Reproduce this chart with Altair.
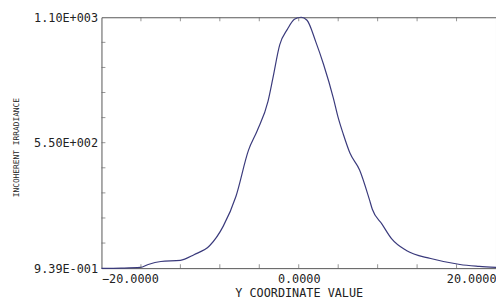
import altair as alt
import pandas as pd

# ---- data ----
y_coord = [-20.0, -18.0, -16.05, -15.26, -13.98, -12.0, -10.62, -9.04, -7.65, -6.37,
           -5.09, -4.2, -3.11, -2.62, -1.93, -1.14, -0.44, 0.25, 0.84, 1.73,
           2.52, 3.51, 4.0, 4.5, 5.19, 6.17, 7.16, 7.46, 8.44, 9.43,
           10.91, 13.38, 16.35, 18.3, 20.0]
irradiance = [0, 1, 4, 17, 30, 35, 60, 99, 185, 315,
              518, 604, 733, 833, 979, 1048, 1091, 1100, 1087, 992,
              893, 746, 660, 590, 505, 431, 302, 259, 194, 129,
              78, 43, 17, 9, 4]

x_min, x_max = -20.0, 20.0
y_min, y_max = 0.939, 1100.0
y_mid = (y_min + y_max) / 2
y_tick_labels = ["9.39E-001", "5.50E+002", "1.10E+003"]
x_title = "Y COORDINATE VALUE"
y_title = "INCOHERENT IRRADIANCE"

x_minor = [x_min + k * (x_max - x_min) / 10 for k in range(1, 10)]
y_minor = [y_min + k * (y_max - y_min) / 10 for k in range(1, 10)]

df = pd.DataFrame({"x": y_coord, "v": irradiance})
df_xb = pd.DataFrame({"x": x_minor, "v": [y_min] * len(x_minor)})
df_xt = pd.DataFrame({"x": x_minor, "v": [y_max] * len(x_minor)})
df_yl = pd.DataFrame({"x": [x_min] * len(y_minor), "v": y_minor})

xs = alt.Scale(domain=[x_min, x_max], nice=False, zero=False)
ys = alt.Scale(domain=[y_min, y_max], nice=False, zero=False)

FONT = "DejaVu Sans Mono"
TXT = "#222222"
GRID = "#666666"

label_expr = (f"datum.value < {y_mid/2} ? '{y_tick_labels[0]}' : "
              f"datum.value < {(y_mid + y_max)/2} ? '{y_tick_labels[1]}' : '{y_tick_labels[2]}'")

x_axis = alt.Axis(values=[x_min, 0.0, x_max], format=".4f", title=x_title,
                  labelFlush=True, ticks=False, domain=False, grid=False,
                  labelFont=FONT, labelFontSize=12, labelColor=TXT,
                  labelPadding=6, titleFont=FONT, titleFontSize=12,
                  titleFontWeight="normal", titleColor=TXT, titlePadding=3)
y_axis = alt.Axis(values=[y_min, y_mid, y_max], labelExpr=label_expr,
                  title=y_title, ticks=False, domain=False, grid=False,
                  labelFont=FONT, labelFontSize=12, labelColor=TXT,
                  labelPadding=4, titleFont=FONT, titleFontSize=8,
                  titleFontWeight="normal", titleColor=TXT,
                  titleX=-82, titleY=132)

line = alt.Chart(df).mark_line(color="#3a3a7c", strokeWidth=1.2,
                               interpolate="monotone").encode(
    x=alt.X("x:Q", scale=xs, axis=x_axis),
    y=alt.Y("v:Q", scale=ys, axis=y_axis),
)

def ticks(d, orient, **off):
    return alt.Chart(d).mark_tick(orient=orient, size=4, thickness=1,
                                  color=GRID, **off).encode(
        x=alt.X("x:Q", scale=xs, axis=x_axis),
        y=alt.Y("v:Q", scale=ys, axis=y_axis),
    )

chart = alt.layer(
    line,
    ticks(df_xb, "vertical", yOffset=-2),
    ticks(df_xt, "vertical", yOffset=2),
    ticks(df_yl, "horizontal", xOffset=2),
).properties(
    width=401, height=255, autosize="none",
    padding={"left": 95, "top": 7, "right": 0, "bottom": 32},
).configure_view(stroke="#555555", strokeWidth=1)

chart.save("out.html", embed_options={"renderer": "svg", "actions": False})
